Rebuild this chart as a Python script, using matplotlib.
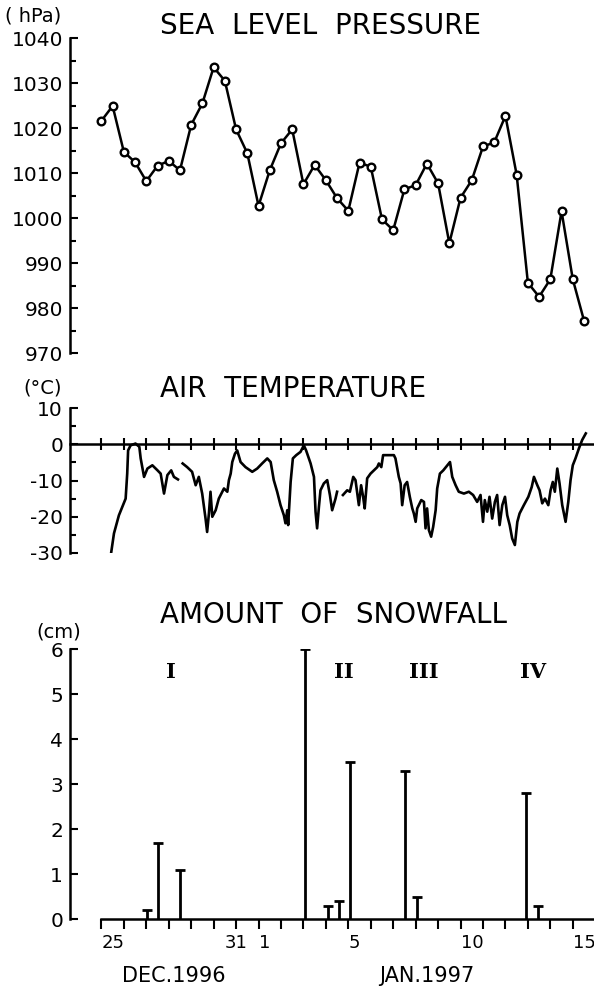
import numpy as np
import matplotlib
matplotlib.use("Agg")
import matplotlib.pyplot as plt
import matplotlib.transforms as mtransforms

plt.rcParams['font.family'] = 'DejaVu Sans'
plt.rcParams['axes.unicode_minus'] = False

# days counted from 25 Dec 1996 00h
pressure_day = np.arange(44) * 0.5
pressure_hpa = [1021.6, 1024.9, 1014.7, 1012.4, 1008.2, 1011.6, 1012.7, 1010.6,
                1020.7, 1025.5, 1033.5, 1030.5, 1019.7, 1014.4, 1002.7, 1010.6,
                1016.6, 1019.7, 1007.5, 1011.8, 1008.4, 1004.4, 1001.6, 1012.3,
                1011.4, 999.7, 997.3, 1006.4, 1007.3, 1012.1, 1007.7, 994.4,
                1004.5, 1008.4, 1015.9, 1016.8, 1022.7, 1009.6, 985.6, 982.5,
                986.4, 1001.5, 986.4, 977.2]

temp_day = [0.44, 0.56, 0.78, 1.08, 1.15, 1.19, 1.30, 1.52, 1.69, 1.75, 1.90, 2.05,
            2.27, 2.50, 2.64, 2.79, 2.94, 3.11, 3.23, 3.41, 3.50, 3.62, 3.82, 4.04,
            4.20, 4.34, 4.49, 4.64, 4.71, 4.79, 4.86, 4.94, 5.09, 5.23, 5.46, 5.61,
            5.68, 5.76, 5.83, 5.95, 6.05, 6.20, 6.42, 6.72, 6.94, 7.16, 7.39, 7.54,
            7.68, 7.83, 7.98, 8.13, 8.20, 8.28, 8.32, 8.43, 8.53, 8.68, 8.87, 9.02,
            9.12, 9.32, 9.47, 9.54, 9.61, 9.69, 9.76, 9.91, 10.06, 10.18, 10.28, 10.43,
            10.50, 10.62, 10.76, 10.95, 11.07, 11.22, 11.32, 11.47, 11.57, 11.66, 11.73, 11.84,
            11.99, 12.14, 12.29, 12.36, 12.47, 12.55, 12.73, 13.03, 13.10, 13.25, 13.33, 13.40,
            13.51, 13.62, 13.74, 13.85, 13.92, 14.00, 14.07, 14.25, 14.37, 14.44, 14.51, 14.59,
            14.69, 14.78, 14.89, 14.96, 15.08, 15.23, 15.41, 15.53, 15.63, 15.78, 15.92, 16.15,
            16.37, 16.56, 16.74, 16.89, 17.00, 17.08, 17.19, 17.29, 17.41, 17.53, 17.63, 17.74,
            17.86, 17.98, 18.08, 18.19, 18.30, 18.42, 18.53, 18.63, 18.82, 19.02, 19.17, 19.27,
            19.42, 19.52, 19.64, 19.76, 19.91, 20.01, 20.11, 20.20, 20.31, 20.41, 20.53, 20.68,
            20.80, 20.90, 21.00, 21.12, 21.27, 21.42, 21.58]
temp_c = [-29.7, -24.6, -19.6, -15.0, -8.1, -1.7, -0.3, 0.2, -0.7, -3.9, -9.0, -6.7,
          -5.8, -7.2, -8.1, -13.6, -8.5, -7.2, -9.0, -9.7, np.nan, -5.3, -6.3, -7.6,
          -11.3, -9.0, -13.6, -20.5, -24.2, -19.1, -13.1, -20.0, -18.2, -15.0, -12.2, -13.1,
          -9.9, -8.1, -4.9, -2.6, -1.7, -4.9, -6.3, -7.6, -6.7, -5.3, -3.9, -4.9,
          -9.9, -13.1, -16.8, -19.6, -21.8, -18.2, -22.3, -10.4, -3.9, -3.0, -2.1, -0.3,
          -1.7, -5.3, -9.0, -18.6, -23.2, -17.3, -12.7, -10.8, -9.9, -14.0, -18.2, -15.0,
          -13.1, np.nan, -14.0, -12.7, -13.1, -9.0, -9.9, -16.8, -11.3, -14.5, -17.7, -9.4,
          -8.1, -7.2, -6.3, -5.3, -6.3, -3.0, -3.0, -3.0, -3.9, -9.0, -10.8, -16.8,
          -11.3, -10.4, -14.5, -17.7, -19.1, -21.4, -17.7, -15.4, -15.9, -23.2, -17.7, -23.7,
          -25.5, -22.8, -18.2, -12.2, -8.1, -7.2, -5.8, -4.9, -9.0, -11.3, -13.1, -13.6,
          -13.1, -14.0, -15.9, -14.0, -21.4, -15.4, -18.6, -14.5, -20.5, -15.9, -14.0, -22.3,
          -16.8, -14.5, -19.6, -22.3, -26.0, -27.8, -21.4, -19.1, -16.8, -14.5, -11.8, -9.0,
          -11.3, -12.7, -16.3, -15.0, -16.8, -12.7, -10.4, -13.1, -6.7, -10.8, -16.8, -21.4,
          -15.9, -9.9, -5.8, -3.9, -1.2, 1.2, 3.0]

snow_day = [2.05, 2.54, 3.52, 9.09, 10.10, 10.57, 11.09, 13.54, 14.06, 18.93, 19.47]
snow_cm = [0.2, 1.7, 1.1, 6.0, 0.3, 0.4, 3.5, 3.3, 0.5, 2.8, 0.3]

event_labels = ['I', 'II', 'III', 'IV']
event_day = [3.12, 10.78, 14.35, 19.25]

tick_days = np.arange(22)
label_days = [0, 6, 7, 11, 16, 21]
label_text = ['25', '31', '1', '5', '10', '15']

xlim = (-1.4, 21.94)

fig = plt.figure(figsize=(5.94, 9.88), dpi=100)
ax_p = fig.add_axes([0.1178, 0.6427, 0.882, 0.3188])
ax_t = fig.add_axes([0.1178, 0.4403, 0.882, 0.1467])
ax_s = fig.add_axes([0.1178, 0.0698, 0.882, 0.2733])

for ax in (ax_p, ax_t, ax_s):
    ax.set_xlim(*xlim)
    ax.spines['top'].set_visible(False)
    ax.spines['right'].set_visible(False)
    ax.spines['left'].set_linewidth(1.8)
    ax.tick_params(axis='y', direction='in', length=6, width=1.5,
                   labelsize=14.5, pad=5)
    ax.tick_params(axis='y', which='minor', direction='in', length=4, width=1.5)

# sea level pressure
ax_p.plot(pressure_day, pressure_hpa, color='black', lw=1.8, marker='o',
          markersize=5.5, markerfacecolor='white', markeredgewidth=1.7)
ax_p.set_ylim(970, 1040)
ax_p.set_yticks(np.arange(970, 1041, 10))
ax_p.set_yticks(np.arange(975, 1040, 10), minor=True)
ax_p.spines['bottom'].set_visible(False)
ax_p.set_xticks([])

# air temperature
ax_t.plot(temp_day, temp_c, color='black', lw=1.9)
ax_t.set_ylim(-30, 10)
ax_t.set_yticks([10, 0, -10, -20, -30])
ax_t.set_yticks([5, -5, -15, -25], minor=True)
ax_t.spines['bottom'].set_position(('data', 0))
ax_t.spines['bottom'].set_linewidth(1.8)
ax_t.set_xticks(tick_days)
ax_t.tick_params(axis='x', direction='inout', length=9, width=1.5, labelbottom=False)

# snowfall
ax_s.vlines(snow_day, 0, snow_cm, color='black', lw=2)
ax_s.plot(snow_day, snow_cm, linestyle='none', marker='_', markersize=7,
          markeredgewidth=2, color='black')
ax_s.set_ylim(0, 6)
ax_s.set_yticks(range(7))
ax_s.spines['bottom'].set_bounds(0, xlim[1])
ax_s.spines['bottom'].set_linewidth(1.8)
ax_s.set_xticks(label_days)
ax_s.set_xticklabels(label_text, ha='left')
ax_s.get_xticklabels()[1].set_horizontalalignment('center')
ax_s.set_xticks(tick_days, minor=True)
ax_s.tick_params(axis='x', which='both', direction='out', length=7, width=1.5,
                 labelsize=13, pad=4)

for d, lab in zip(event_day, event_labels):
    ax_s.text(d, 5.5, lab, ha='center', va='center', fontsize=15,
              family='DejaVu Serif', fontweight='bold')

trans = mtransforms.blended_transform_factory(ax_s.transData, ax_s.transAxes)
ax_s.text(3.23, -0.21, 'DEC.1996', transform=trans, ha='center', va='center', fontsize=15)
ax_s.text(14.5, -0.21, 'JAN.1997', transform=trans, ha='center', va='center', fontsize=15)

# titles and units
fig.text(0.269, 0.9737, 'SEA  LEVEL  PRESSURE', ha='left', va='center', fontsize=20)
fig.text(0.269, 0.6063, 'AIR  TEMPERATURE', ha='left', va='center', fontsize=20)
fig.text(0.269, 0.3775, 'AMOUNT  OF  SNOWFALL', ha='left', va='center', fontsize=20)
fig.text(0.008, 0.984, '( hPa)', ha='left', va='center', fontsize=14)
fig.text(0.039, 0.607, '(°C)', ha='left', va='center', fontsize=14)
fig.text(0.062, 0.360, '(cm)', ha='left', va='center', fontsize=14)

plt.savefig('out.png', dpi=100)
plt.close()
